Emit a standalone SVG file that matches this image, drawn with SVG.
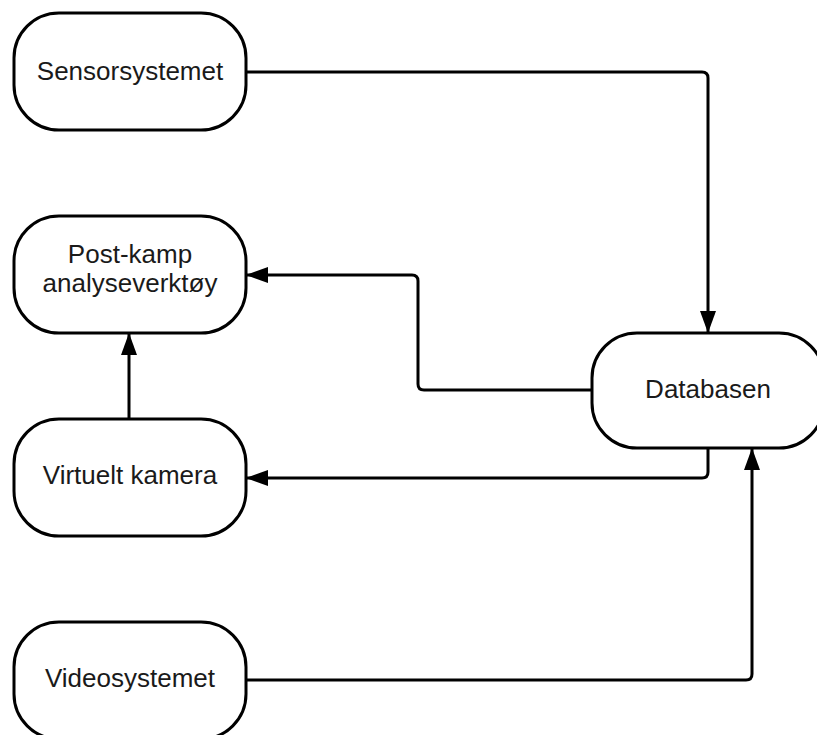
<svg xmlns="http://www.w3.org/2000/svg" width="817" height="735" viewBox="0 0 817 735">
  <style>
    .node rect { fill: #ffffff; stroke: #000000; stroke-width: 3; }
    .node text { font-family: "Liberation Sans", Arial, sans-serif; font-size: 26px; fill: #1a1a1a; text-anchor: middle; }
    .conn path { fill: none; stroke: #000000; stroke-width: 3; marker-end: url(#arrow); }
  </style>
  <defs>
    <marker id="arrow" markerUnits="userSpaceOnUse" markerWidth="22" markerHeight="16" refX="22" refY="8" orient="auto" viewBox="0 0 22 16">
      <path d="M0,0 L22,8 L0,16 Z" fill="#000000"/>
    </marker>
  </defs>
  <rect width="817" height="735" fill="#ffffff"/>
  <g id="connectors" class="conn">
    <path d="M246,72 H702 Q708,72 708,78 V333"/>
    <path d="M592,390 H424 Q418,390 418,384 V281 Q418,275 412,275 H246"/>
    <path d="M708,448 V472 Q708,478 702,478 H246"/>
    <path d="M246,680 H746 Q752,680 752,674 V448"/>
    <path d="M129,419 V333"/>
  </g>
  <g id="sensorsystemet" class="node">
    <rect x="14" y="13" width="232" height="117" rx="45" ry="45"/>
    <text x="130" y="80">Sensorsystemet</text>
  </g>
  <g id="postkamp" class="node">
    <rect x="14" y="216" width="232" height="117" rx="45" ry="45"/>
    <text x="130" y="263">Post-kamp</text>
    <text x="130" y="292">analyseverktøy</text>
  </g>
  <g id="virtueltkamera" class="node">
    <rect x="14" y="419" width="232" height="117" rx="45" ry="45"/>
    <text x="130" y="484">Virtuelt kamera</text>
  </g>
  <g id="videosystemet" class="node">
    <rect x="14" y="622" width="232" height="117" rx="45" ry="45"/>
    <text x="130" y="687">Videosystemet</text>
  </g>
  <g id="databasen" class="node">
    <rect x="592" y="333" width="232" height="115" rx="45" ry="45"/>
    <text x="708" y="398">Databasen</text>
  </g>
</svg>
